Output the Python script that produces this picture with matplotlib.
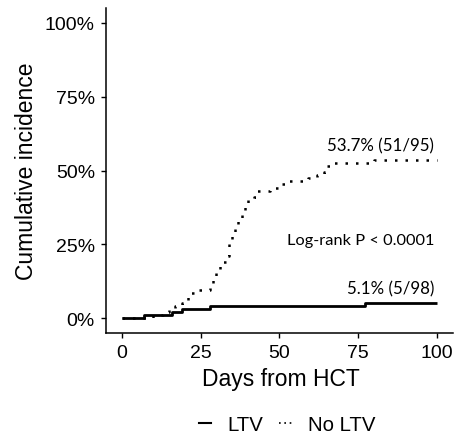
import matplotlib
matplotlib.use("Agg")
import matplotlib.pyplot as plt
from matplotlib.lines import Line2D
from matplotlib.ticker import FuncFormatter

# Data
ltv_days = [0, 7, 16, 19, 28, 77, 100]
ltv_pct = [0.0, 1.0, 2.0, 3.1, 4.1, 5.1, 5.1]

noltv_days = [0, 10, 13, 15, 17, 19, 21, 22, 24, 28, 29, 30, 31, 32, 33, 34,
              35, 36, 37, 38, 39, 40, 42, 43, 47, 50, 53, 59, 62, 64, 65, 67,
              80, 100]
noltv_pct = [0.0, 1.1, 2.1, 3.2, 4.2, 5.3, 7.4, 8.4, 9.5, 10.5, 13.7, 15.8,
             17.9, 19.0, 21.1, 25.3, 28.4, 30.5, 33.7, 35.8, 37.9, 40.0, 41.1,
             43.2, 44.2, 45.3, 46.3, 47.4, 48.4, 49.5, 51.6, 52.6, 53.7, 53.7]

x_ticks = [0, 25, 50, 75, 100]
y_ticks = [0, 25, 50, 75, 100]

labels = ["LTV", "No LTV"]
end_labels = ["5.1% (5/98)", "53.7% (51/95)"]
pvalue_text = "Log-rank P < 0.0001"

plt.rcParams['font.family'] = ['Liberation Sans', 'DejaVu Sans']

fig = plt.figure(figsize=(4.6, 4.39), dpi=100)
ax = fig.add_axes([106/460, 1-334/439, (453-106)/460, (334-9)/439])

dot_style = (0, (1, 3.2))
ax.step(ltv_days, ltv_pct, where='post', color='black', lw=2.0,
        solid_capstyle='butt')
ax.step(noltv_days, noltv_pct, where='post', color='black', lw=1.8,
        linestyle=dot_style)

ax.set_xlim(-5, 105)
ax.set_ylim(-5, 105)
ax.set_xticks(x_ticks)
ax.set_yticks(y_ticks)
ax.yaxis.set_major_formatter(FuncFormatter(lambda v, p: f"{int(v)}%"))

for s in ['top', 'right']:
    ax.spines[s].set_visible(False)
for s in ['left', 'bottom']:
    ax.spines[s].set_linewidth(1.1)
ax.tick_params(axis='both', length=3.5, width=1.0, labelsize=14, pad=4.5,
               colors='black')

ax.set_xlabel("Days from HCT", fontsize=16.5)
ax.set_ylabel("Cumulative incidence", fontsize=16.5)
ax.xaxis.set_label_coords(0.504, -0.105)
ax.yaxis.set_label_coords(-0.195, 0.5)

ann_font = ['Lato', 'DejaVu Sans']
ax.text(99, 58.6, end_labels[1], ha='right', va='center', fontsize=12.2,
        family=ann_font)
ax.text(99, 26.4, pvalue_text, ha='right', va='center', fontsize=11.8,
        family=ann_font)
ax.text(99, 10.2, end_labels[0], ha='right', va='center', fontsize=12.2,
        family=ann_font)

handles = [Line2D([], [], color='black', lw=1.5),
           Line2D([], [], color='black', lw=1.2, linestyle=(0, (1, 2.2)))]
fig.legend(handles, labels, loc='center', bbox_to_anchor=(287/460, 1-426/439),
           ncol=2, frameon=False, fontsize=14.7, handlelength=0.6,
           handletextpad=0.8, columnspacing=0.8)

fig.savefig("out.png", dpi=100)
